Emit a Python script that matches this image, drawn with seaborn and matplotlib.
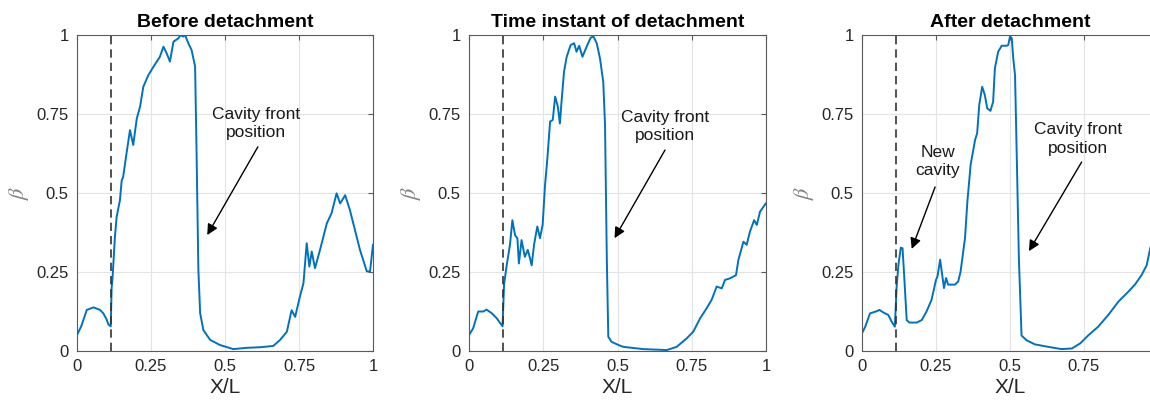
import numpy as np
import pandas as pd
import matplotlib
matplotlib.use("Agg")
import matplotlib.pyplot as plt
import seaborn as sns

# ---------------- data ----------------
titles = ["Before detachment", "Time instant of detachment", "After detachment"]
x_ticks = [0, 0.25, 0.5, 0.75, 1]
tick_labels = ["0", "0.25", "0.5", "0.75", "1"]
detach_x = 0.115

x1 = [0.000, 0.015, 0.033, 0.056, 0.078, 0.089, 0.100, 0.106, 0.114, 0.117, 0.120, 0.128,
      0.134, 0.145, 0.151, 0.156, 0.168, 0.179, 0.190, 0.202, 0.213, 0.224, 0.241, 0.258,
      0.280, 0.292, 0.303, 0.314, 0.326, 0.342, 0.350, 0.359, 0.365, 0.376, 0.387, 0.399,
      0.404, 0.410, 0.416, 0.427, 0.450, 0.483, 0.528, 0.573, 0.620, 0.663, 0.686, 0.709,
      0.725, 0.737, 0.753, 0.765, 0.776, 0.785, 0.793, 0.804, 0.821, 0.844, 0.860, 0.877,
      0.889, 0.906, 0.922, 0.939, 0.956, 0.979, 0.990, 1.000]
y1 = [0.050, 0.080, 0.130, 0.138, 0.130, 0.119, 0.100, 0.084, 0.078, 0.200, 0.230, 0.360,
      0.425, 0.477, 0.540, 0.551, 0.630, 0.699, 0.652, 0.736, 0.773, 0.836, 0.873, 0.899,
      0.931, 0.963, 0.942, 0.916, 0.979, 0.989, 1.000, 0.995, 1.000, 0.974, 0.953, 0.900,
      0.626, 0.258, 0.120, 0.066, 0.035, 0.019, 0.006, 0.010, 0.012, 0.016, 0.035, 0.061,
      0.129, 0.108, 0.172, 0.214, 0.341, 0.267, 0.315, 0.262, 0.320, 0.404, 0.436, 0.499,
      0.467, 0.493, 0.446, 0.383, 0.320, 0.252, 0.252, 0.337]

x2 = [0.000, 0.014, 0.031, 0.048, 0.059, 0.076, 0.093, 0.113, 0.118, 0.127, 0.138, 0.146,
      0.155, 0.163, 0.168, 0.177, 0.188, 0.198, 0.205, 0.211, 0.219, 0.230, 0.239, 0.248,
      0.256, 0.264, 0.273, 0.282, 0.290, 0.299, 0.306, 0.312, 0.320, 0.329, 0.342, 0.354,
      0.362, 0.371, 0.382, 0.396, 0.410, 0.419, 0.430, 0.441, 0.452, 0.458, 0.464, 0.469,
      0.480, 0.503, 0.520, 0.587, 0.666, 0.699, 0.733, 0.755, 0.778, 0.800, 0.817, 0.834,
      0.851, 0.862, 0.879, 0.899, 0.907, 0.924, 0.935, 0.946, 0.960, 0.969, 0.980, 1.000]
y2 = [0.050, 0.072, 0.125, 0.125, 0.131, 0.120, 0.104, 0.078, 0.210, 0.272, 0.336, 0.414,
      0.367, 0.356, 0.277, 0.351, 0.298, 0.320, 0.295, 0.271, 0.336, 0.394, 0.357, 0.400,
      0.525, 0.610, 0.726, 0.731, 0.805, 0.774, 0.720, 0.794, 0.884, 0.931, 0.968, 0.974,
      0.947, 0.966, 0.931, 0.963, 0.992, 0.995, 0.974, 0.926, 0.852, 0.715, 0.293, 0.045,
      0.029, 0.019, 0.013, 0.006, 0.003, 0.013, 0.040, 0.061, 0.103, 0.135, 0.162, 0.204,
      0.198, 0.225, 0.230, 0.240, 0.288, 0.346, 0.336, 0.378, 0.414, 0.399, 0.441, 0.468]

x3 = [0.000, 0.011, 0.027, 0.050, 0.059, 0.072, 0.089, 0.100, 0.111, 0.117, 0.123, 0.131,
      0.137, 0.143, 0.151, 0.160, 0.185, 0.202, 0.218, 0.235, 0.250, 0.255, 0.264, 0.270,
      0.277, 0.284, 0.291, 0.314, 0.325, 0.333, 0.348, 0.356, 0.367, 0.382, 0.389, 0.396,
      0.406, 0.415, 0.423, 0.434, 0.443, 0.449, 0.460, 0.472, 0.489, 0.494, 0.500, 0.506,
      0.511, 0.517, 0.523, 0.530, 0.539, 0.556, 0.584, 0.630, 0.674, 0.709, 0.737, 0.765,
      0.798, 0.832, 0.866, 0.900, 0.922, 0.945, 0.962, 0.969, 0.975]
y3 = [0.056, 0.077, 0.119, 0.126, 0.130, 0.122, 0.114, 0.093, 0.077, 0.203, 0.272, 0.327,
      0.325, 0.230, 0.098, 0.090, 0.090, 0.098, 0.125, 0.162, 0.225, 0.236, 0.289, 0.247,
      0.199, 0.231, 0.210, 0.210, 0.220, 0.251, 0.357, 0.473, 0.589, 0.668, 0.689, 0.778,
      0.836, 0.810, 0.768, 0.760, 0.789, 0.895, 0.947, 0.966, 0.966, 0.968, 0.995, 0.990,
      0.926, 0.873, 0.610, 0.293, 0.049, 0.034, 0.021, 0.013, 0.006, 0.008, 0.024, 0.050,
      0.077, 0.114, 0.156, 0.188, 0.210, 0.241, 0.272, 0.304, 0.330]

note_front = "Cavity front\nposition"
note_new = "New\ncavity"

# ---------------- style ----------------
sns.set_style("white")
plt.rcParams["font.family"] = ["Liberation Sans", "DejaVu Sans"]
plt.rcParams["mathtext.fontset"] = "stix"

W, H = 1150, 405
fig = plt.figure(figsize=(W / 100, H / 100), dpi=100)

# axes pixel boxes (left, right); shared top / bottom
boxes = [(77, 373), (469, 766), (862, 1158)]
top_px, bot_px = 35, 351

series = [(x1, y1), (x2, y2), (x3, y3)]
line_color = "#0072BD"
txt_color = "#262626"

annots = [
    [(note_front, (0.605, 0.72), (0.611, 0.646), (0.44, 0.367))],
    [(note_front, (0.66, 0.71), (0.66, 0.636), (0.49, 0.357))],
    [(note_new, (0.256, 0.60), (0.247, 0.519), (0.168, 0.323)),
     (note_front, (0.73, 0.67), (0.742, 0.598), (0.564, 0.316))],
]

for i, ((l, r), (xs, ys)) in enumerate(zip(boxes, series)):
    ax = fig.add_axes([l / W, (H - bot_px) / H, (r - l) / W, (bot_px - top_px) / H])
    df = pd.DataFrame({"x": xs, "y": ys})
    sns.lineplot(data=df, x="x", y="y", ax=ax, color=line_color, lw=1.4,
                 sort=False, estimator=None)
    ax.axvline(detach_x, color="#333333", ls=(0, (5, 3)), lw=1.2, zorder=3)
    ax.set_xlim(0, 1)
    ax.set_ylim(0, 1)
    ax.set_xticks(x_ticks)
    ax.set_xticklabels(tick_labels)
    ax.set_yticks(x_ticks)
    ax.set_yticklabels(tick_labels)
    ax.grid(True, color="#e3e3e3", lw=0.8)
    ax.set_axisbelow(True)
    for s in ax.spines.values():
        s.set_visible(True)
        s.set_color("#5a5a5a")
        s.set_linewidth(0.8)
    ax.tick_params(direction="in", length=3.5, width=0.8, color="#5a5a5a",
                   labelsize=12, labelcolor=txt_color, pad=6,
                   top=True, right=True)
    ax.set_title(titles[i], fontsize=14, fontweight="bold", pad=6, color="black")
    ax.set_xlabel("X/L", fontsize=15, color=txt_color)
    ax.xaxis.set_label_coords(0.5, -0.085)
    ax.set_ylabel(r"$\beta$", fontsize=16, color="#808080")
    ax.yaxis.set_label_coords(-0.155, 0.5)
    for text, tpos, tail, tip in annots[i]:
        ax.text(tpos[0], tpos[1], text, ha="center", va="center", fontsize=12.5,
                color="#1a1a1a", linespacing=1.3)
        ax.annotate("", xy=tip, xytext=tail,
                    arrowprops=dict(arrowstyle="-|>", color="black", lw=1.0,
                                    mutation_scale=16, shrinkA=0, shrinkB=0))

fig.savefig("out.png", dpi=100)
